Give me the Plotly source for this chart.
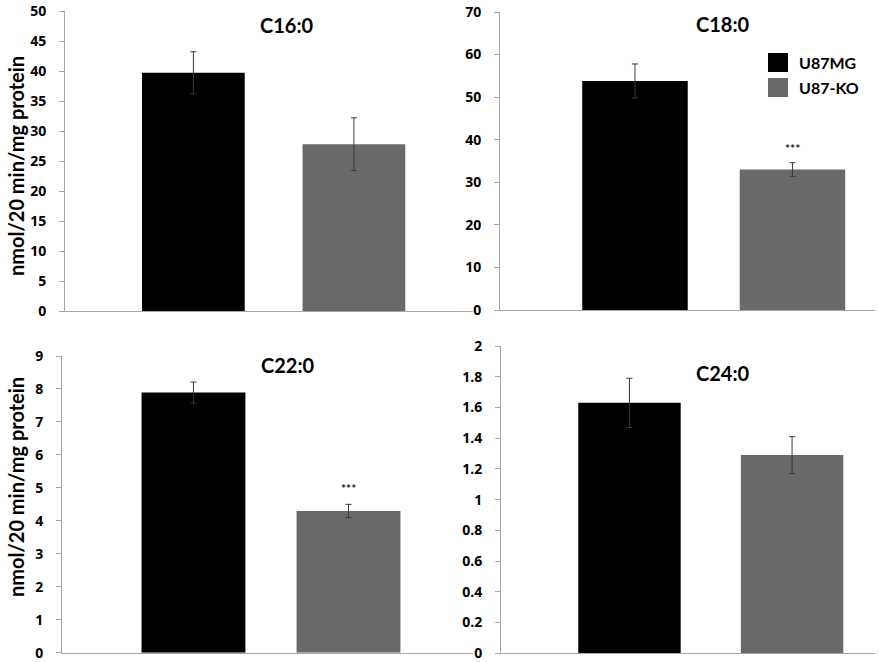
import plotly.graph_objects as go

W, H = 879, 662

groups = ["U87MG", "U87-KO"]
panel_titles = ["C16:0", "C18:0", "C22:0", "C24:0"]
means = {
    "C16:0": [39.7, 27.8],
    "C18:0": [53.8, 33.0],
    "C22:0": [7.89, 4.30],
    "C24:0": [1.63, 1.29],
}
errors = {
    "C16:0": [3.5, 4.4],
    "C18:0": [4.0, 1.6],
    "C22:0": [0.32, 0.20],
    "C24:0": [0.16, 0.12],
}
y_ticks = {
    "C16:0": [0, 5, 10, 15, 20, 25, 30, 35, 40, 45, 50],
    "C18:0": [0, 10, 20, 30, 40, 50, 60, 70],
    "C22:0": [0, 1, 2, 3, 4, 5, 6, 7, 8, 9],
    "C24:0": [0, 0.2, 0.4, 0.6, 0.8, 1, 1.2, 1.4, 1.6, 1.8, 2],
}
y_ticklabels = {
    "C16:0": ["0", "5", "10", "15", "20", "25", "30", "35", "40", "45", "50"],
    "C18:0": ["0", "10", "20", "30", "40", "50", "60", "70"],
    "C22:0": ["0", "1", "2", "3", "4", "5", "6", "7", "8", "9"],
    "C24:0": ["0", "0.2", "0.4", "0.6", "0.8", "1", "1.2", "1.4", "1.6", "1.8", "2"],
}
stars = {"C18:0": ("U87-KO", 38.0), "C22:0": ("U87-KO", 4.97)}
colors = ["#000000", "#696969"]
ylabel = "nmol/20 min/mg protein"

FONT = "Lato"
TICKFONT = "Open Sans"

# layout in pixels: (x0, x1, ytop, ybottom, xrange, barwidth)
layout_px = {
    "C16:0": (65, 473, 11, 311, [-0.80, 1.742], 0.64),
    "C18:0": (500, 875, 12, 310, [-0.857, 1.524], 0.67),
    "C22:0": (62, 473, 356, 652.7, [-0.848, 1.803], 0.67),
    "C24:0": (501, 875, 346, 653.3, [-0.79, 1.51], 0.63),
}
title_pos = {"C16:0": (287, 25), "C18:0": (723, 24), "C22:0": (288, 365), "C24:0": (723, 373)}


def px(x):
    return x / W


def py(y):
    return 1 - y / H


fig = go.Figure()
annotations = []
for i, name in enumerate(panel_titles):
    k = "" if i == 0 else str(i + 1)
    x0, x1, yt, yb, xr, bw = layout_px[name]
    for j, g in enumerate(groups):
        fig.add_trace(go.Bar(
            x=[g], y=[means[name][j]],
            error_y=dict(type="data", array=[errors[name][j]], color="#3a3a3a",
                         thickness=1, width=3),
            marker=dict(color=colors[j], line=dict(width=0)),
            width=bw, showlegend=False,
            xaxis="x" + k, yaxis="y" + k,
        ))
    fig.layout["xaxis" + k] = dict(
        domain=[px(x0), px(x1)], anchor="y" + k, type="category",
        categoryorder="array", categoryarray=groups, range=xr,
        showticklabels=False, ticks="", showline=True, linecolor="#a6a6a6",
        linewidth=1, showgrid=False, zeroline=False, fixedrange=True,
        automargin=False,
    )
    fig.layout["yaxis" + k] = dict(
        domain=[py(yb), py(yt)], anchor="x" + k,
        range=[0, y_ticks[name][-1]],
        tickmode="array", tickvals=y_ticks[name],
        ticktext=["<b>" + t + "</b>" for t in y_ticklabels[name]],
        ticks="outside", ticklen=5, ticklabeloverflow="allow",
        tickcolor="#a6a6a6", showline=True, linecolor="#a6a6a6", linewidth=1,
        showgrid=False, zeroline=False, ticklabelstandoff=10, automargin=False,
        tickfont=dict(family=TICKFONT, size=14, color="#000000"),
    )
    tx, ty = title_pos[name]
    annotations.append(dict(
        text="<b>" + name + "</b>", x=px(tx), y=py(ty), xref="paper", yref="paper",
        showarrow=False, xanchor="center", yanchor="middle",
        font=dict(family=FONT, size=20, color="#000000"),
    ))
    if name in stars:
        sx, sy = stars[name]
        annotations.append(dict(
            text="<b>***</b>", x=sx, y=sy, xref="x" + k, yref="y" + k, showarrow=False,
            xanchor="center", yanchor="middle",
            font=dict(family=FONT, size=12, color="#222222"),
        ))

for ycen in (166, 487):
    annotations.append(dict(
        text="<b>" + ylabel + "</b>", x=px(16), y=py(ycen), xref="paper", yref="paper",
        showarrow=False, textangle=-90, xanchor="center", yanchor="middle",
        font=dict(family=FONT, size=20, color="#000000"),
    ))

# legend (drawn in the C18:0 panel)
legend_items = [(groups[0], colors[0], 53, 72), (groups[1], colors[1], 78, 97)]
shapes = []
for label, c, y0, y1 in legend_items:
    shapes.append(dict(type="rect", xref="paper", yref="paper",
                       x0=px(768), x1=px(788), y0=py(y1), y1=py(y0),
                       fillcolor=c, line=dict(width=0)))
    annotations.append(dict(
        text="<b>" + label + "</b>", x=px(797), y=py((y0 + y1) / 2),
        xref="paper", yref="paper", showarrow=False, xanchor="left",
        yanchor="middle", font=dict(family=FONT, size=16, color="#000000"),
    ))

fig.update_layout(
    width=W, height=H, autosize=False, margin=dict(l=0, r=0, t=0, b=0, pad=0),
    paper_bgcolor="#ffffff", plot_bgcolor="#ffffff",
    annotations=annotations, shapes=shapes, barmode="overlay",
    font=dict(family=FONT, color="#000000"), showlegend=False,
)

fig.write_html(
    "out.html",
    config={"responsive": False, "displayModeBar": False},
    post_script="document.body.style.margin='0px';document.body.style.padding='0px';",
)
